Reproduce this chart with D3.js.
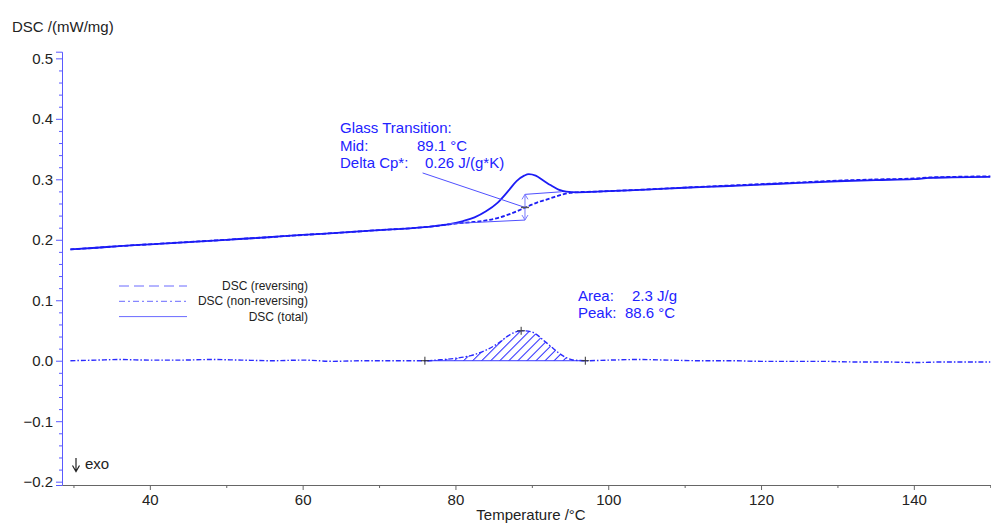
<!DOCTYPE html>
<html>
<head>
<meta charset="utf-8">
<script src="https://cdn.jsdelivr.net/npm/d3@7"></script>
<style>
  body { margin: 0; background: #fff; }
  svg { display: block; font-family: "Liberation Sans", Arial, sans-serif; }
</style>
</head>
<body>
<div id="chart"></div>
<script>
// Temperature (°C) and DSC signal (mW/mg)
const tempTotal = [29.6, 33, 36, 40, 45, 50, 55, 60, 65, 70, 74, 77, 79, 81, 82.5, 84, 85.5, 87, 88, 89, 89.6, 90.5, 91.5, 92.5, 93.5, 94.5, 96, 98, 100, 105, 110, 115, 120, 125, 130, 135, 140, 142, 145, 150];
const dscTotal  = [0.184, 0.1868, 0.1895, 0.1925, 0.1962, 0.2, 0.2038, 0.208, 0.2118, 0.216, 0.219, 0.2222, 0.2255, 0.231, 0.237, 0.247, 0.261, 0.282, 0.297, 0.306, 0.3085, 0.306, 0.298, 0.29, 0.283, 0.2795, 0.2785, 0.2793, 0.2805, 0.283, 0.286, 0.2885, 0.2913, 0.294, 0.2968, 0.2988, 0.3003, 0.3022, 0.3032, 0.3042];

const tempRev = [29.6, 33, 36, 40, 45, 50, 55, 60, 65, 70, 74, 77, 80, 82, 84, 85.5, 87, 88, 89.1, 90, 91, 92, 93, 94, 95, 96.5, 98, 100, 105, 110, 115, 120, 125, 130, 135, 140, 142, 145, 150];
const dscRev  = [0.184, 0.1868, 0.1895, 0.1925, 0.1962, 0.2, 0.2038, 0.208, 0.2118, 0.216, 0.219, 0.2222, 0.2268, 0.229, 0.232, 0.236, 0.242, 0.247, 0.253, 0.258, 0.263, 0.2668, 0.271, 0.275, 0.2775, 0.279, 0.2795, 0.2805, 0.2832, 0.2863, 0.2892, 0.292, 0.2948, 0.2978, 0.2998, 0.3013, 0.303, 0.304, 0.305];

const tempNonRev = [29.6, 33, 36, 40, 44, 48, 52, 56, 60, 64, 68, 72, 76, 78, 80, 82, 84, 85.5, 87, 88, 88.6, 89.5, 90.5, 91.5, 92.5, 93.5, 94.5, 95.5, 97, 100, 104, 108, 112, 116, 120, 124, 128, 132, 136, 140, 144, 148, 150];
const dscNonRev  = [0.0, 0.001, 0.002, 0.001, 0.001, 0.002, 0.001, 0.0, 0.001, -0.001, 0.0, 0.0, 0.0, 0.0015, 0.004, 0.0085, 0.0175, 0.028, 0.042, 0.048, 0.0495, 0.049, 0.0445, 0.034, 0.0235, 0.013, 0.005, 0.001, 0.0, 0.001, 0.002, 0.001, 0.0, 0.0, -0.001, -0.001, -0.001, -0.002, -0.002, -0.003, -0.002, -0.002, -0.002];

const xTicks = [40, 60, 80, 100, 120, 140];
const xMinorTicks = [30, 50, 70, 90, 110, 130, 150];
const yTicks = [-0.2, -0.1, 0.0, 0.1, 0.2, 0.3, 0.4, 0.5];

const legendLabels = ['DSC (reversing)', 'DSC (non-reversing)', 'DSC (total)'];
const legendDash = ['10,5', '6,3,2,3', null];

// glass transition evaluation
const tgMid = 89.1;
const tgLower = [[79, 0.2265], [89.1, 0.2326]];
const tgUpper = [[89.1, 0.2751], [93.9, 0.2794]];
const tgLeader = [[75.7, 0.3105], [89.1, 0.2535]];
const tgLabels = ['Glass Transition:', 'Mid:', 'Delta Cp*:'];
const tgValues = ['', '89.1 °C', '0.26 J/(g*K)'];

// peak evaluation
const peakStart = 76, peakEnd = 97, peakTemp = 88.6, peakValue = 0.0495;
const peakLabels = ['Area:', 'Peak:'];
const peakValues = ['2.3 J/g', '88.6 °C'];

const width = 991, height = 523;
const blue = '#1c1cf5';
const textBlue = '#2222ff';

const svg = d3.select('#chart')
    .append('svg')
    .attr('width', width)
    .attr('height', height);

const x = d3.scaleLinear().domain([28.5, 150.1]).range([62, 991]);
const y = d3.scaleLinear().domain([-0.2055, 0.511]).range([485, 51.7]);

// hatch pattern for the peak area
svg.append('defs')
    .append('pattern')
    .attr('id', 'hatch')
    .attr('patternUnits', 'userSpaceOnUse')
    .attr('width', 6.4)
    .attr('height', 6.4)
    .attr('patternTransform', 'rotate(45)')
    .append('line')
    .attr('x1', 0.5).attr('y1', 0)
    .attr('x2', 0.5).attr('y2', 6.4)
    .attr('stroke', '#2424ff')
    .attr('stroke-width', 1);

// y axis (blue)
const yAxis = svg.append('g')
    .attr('transform', 'translate(62,0)')
    .call(d3.axisLeft(y).tickValues(yTicks).tickSize(6).tickPadding(3)
        .tickFormat(d3.format('.1f')));
yAxis.selectAll('text').attr('font-size', 15).attr('fill', '#222').attr('font-family', null);
yAxis.selectAll('path, line').attr('stroke', '#5a5aff');

const yMinor = d3.range(-20, 51, 2).map(v => v / 100).filter(v => Math.abs(v * 10 - Math.round(v * 10)) > 1e-6);
svg.append('g')
    .attr('transform', 'translate(62,0)')
    .call(d3.axisLeft(y).tickValues(yMinor).tickSize(3).tickFormat(''))
    .call(g => g.select('.domain').remove())
    .selectAll('line').attr('stroke', '#5a5aff');

// x axis (grey)
const xAxis = svg.append('g')
    .attr('transform', 'translate(0,485)')
    .call(d3.axisBottom(x).tickValues(xTicks).tickSize(5).tickPadding(4).tickSizeOuter(0));
xAxis.selectAll('text').attr('font-size', 15).attr('fill', '#222').attr('font-family', null);
xAxis.selectAll('path, line').attr('stroke', '#666');

svg.append('g')
    .attr('transform', 'translate(0,485)')
    .call(d3.axisBottom(x).tickValues(xMinorTicks).tickSize(3).tickFormat(''))
    .call(g => g.select('.domain').remove())
    .selectAll('line').attr('stroke', '#666');

// axis titles
svg.append('text')
    .attr('x', 12).attr('y', 32)
    .attr('font-size', 15).attr('fill', '#222')
    .text('DSC /(mW/mg)');

svg.append('text')
    .attr('x', 531).attr('y', 520)
    .attr('text-anchor', 'middle')
    .attr('font-size', 15).attr('fill', '#222')
    .text('Temperature /°C');

// exo arrow
svg.append('path')
    .attr('d', 'M76,458V471M72.5,465.5L76,471.5L79.5,465.5')
    .attr('fill', 'none')
    .attr('stroke', '#222').attr('stroke-width', 1.2);
svg.append('text')
    .attr('x', 85).attr('y', 469)
    .attr('font-size', 15).attr('fill', '#222')
    .text('exo');

// peak area hatch
const areaT = tempNonRev.map((t, i) => [t, dscNonRev[i]]).filter(d => d[0] >= peakStart && d[0] <= peakEnd);
svg.append('path')
    .datum(areaT)
    .attr('fill', 'url(#hatch)')
    .attr('d', d3.area().x(d => x(d[0])).y0(y(0)).y1(d => y(d[1])).curve(d3.curveMonotoneX));

svg.append('line')
    .attr('x1', x(peakStart)).attr('x2', x(peakEnd))
    .attr('y1', y(0)).attr('y2', y(0))
    .attr('stroke', '#3a3aff').attr('stroke-width', 1);

// curves
const line = d3.line().x(d => x(d[0])).y(d => y(d[1])).curve(d3.curveMonotoneX);

svg.append('path')
    .datum(tempNonRev.map((t, i) => [t, dscNonRev[i]]))
    .attr('fill', 'none')
    .attr('stroke', '#2a2aff')
    .attr('stroke-width', 1.4)
    .attr('stroke-dasharray', '5,2,1.5,2')
    .attr('d', line);

svg.append('path')
    .datum(tempTotal.map((t, i) => [t, dscTotal[i]]))
    .attr('fill', 'none')
    .attr('stroke', blue)
    .attr('stroke-width', 1.8)
    .attr('d', line);

svg.append('path')
    .datum(tempRev.map((t, i) => [t, dscRev[i]]))
    .attr('fill', 'none')
    .attr('stroke', blue)
    .attr('stroke-width', 1.8)
    .attr('stroke-dasharray', '4,2')
    .attr('d', line);

// peak markers
const marks = [[peakStart, 0], [peakTemp, peakValue], [peakEnd, 0]];
marks.forEach(m => {
    const cx = x(m[0]), cy = y(m[1]);
    svg.append('path')
        .attr('d', `M${cx - 4},${cy}H${cx + 4}M${cx},${cy - 4}V${cy + 4}`)
        .attr('stroke', '#333').attr('stroke-width', 1);
});

// glass transition construction
const tgStroke = '#5050ff';
[tgLower, tgUpper, tgLeader].forEach(seg => {
    svg.append('line')
        .attr('x1', x(seg[0][0])).attr('y1', y(seg[0][1]))
        .attr('x2', x(seg[1][0])).attr('y2', y(seg[1][1]))
        .attr('stroke', tgStroke).attr('stroke-width', 1);
});

const ax = x(tgMid), aTop = y(tgUpper[0][1]), aBot = y(tgLower[1][1]);
svg.append('path')
    .attr('d', `M${ax},${aTop}V${aBot}M${ax - 3},${aTop + 5}L${ax},${aTop}L${ax + 3},${aTop + 5}M${ax - 3},${aBot - 5}L${ax},${aBot}L${ax + 3},${aBot - 5}`)
    .attr('fill', 'none')
    .attr('stroke', '#7a7aff').attr('stroke-width', 1);

svg.append('line')
    .attr('x1', ax - 4).attr('x2', ax + 4)
    .attr('y1', y(0.2535)).attr('y2', y(0.2535))
    .attr('stroke', '#555').attr('stroke-width', 1.5);

// glass transition text
const tgText = svg.append('g').attr('font-size', 15).attr('fill', textBlue);
tgLabels.forEach((t, i) => {
    tgText.append('text').attr('x', 340).attr('y', 133 + i * 17.5).text(t);
});
tgText.append('text').attr('x', 417).attr('y', 150.5).text(tgValues[1]);
tgText.append('text').attr('x', 425).attr('y', 168).text(tgValues[2]);

// peak text
const pkText = svg.append('g').attr('font-size', 15).attr('fill', textBlue);
peakLabels.forEach((t, i) => {
    pkText.append('text').attr('x', 578).attr('y', 300.5 + i * 17).text(t);
});
pkText.append('text').attr('x', 632).attr('y', 300.5).text(peakValues[0]);
pkText.append('text').attr('x', 625).attr('y', 317.5).text(peakValues[1]);

// legend
const legend = svg.append('g');
legendLabels.forEach((label, i) => {
    const ly = 286 + i * 15.3;
    legend.append('line')
        .attr('x1', 119).attr('x2', 187)
        .attr('y1', ly).attr('y2', ly)
        .attr('stroke', '#6a6aff').attr('stroke-width', 1)
        .attr('stroke-dasharray', legendDash[i]);
    legend.append('text')
        .attr('x', 308).attr('y', ly + 4)
        .attr('text-anchor', 'end')
        .attr('font-size', 12).attr('fill', '#222')
        .text(label);
});
</script>
</body>
</html>
